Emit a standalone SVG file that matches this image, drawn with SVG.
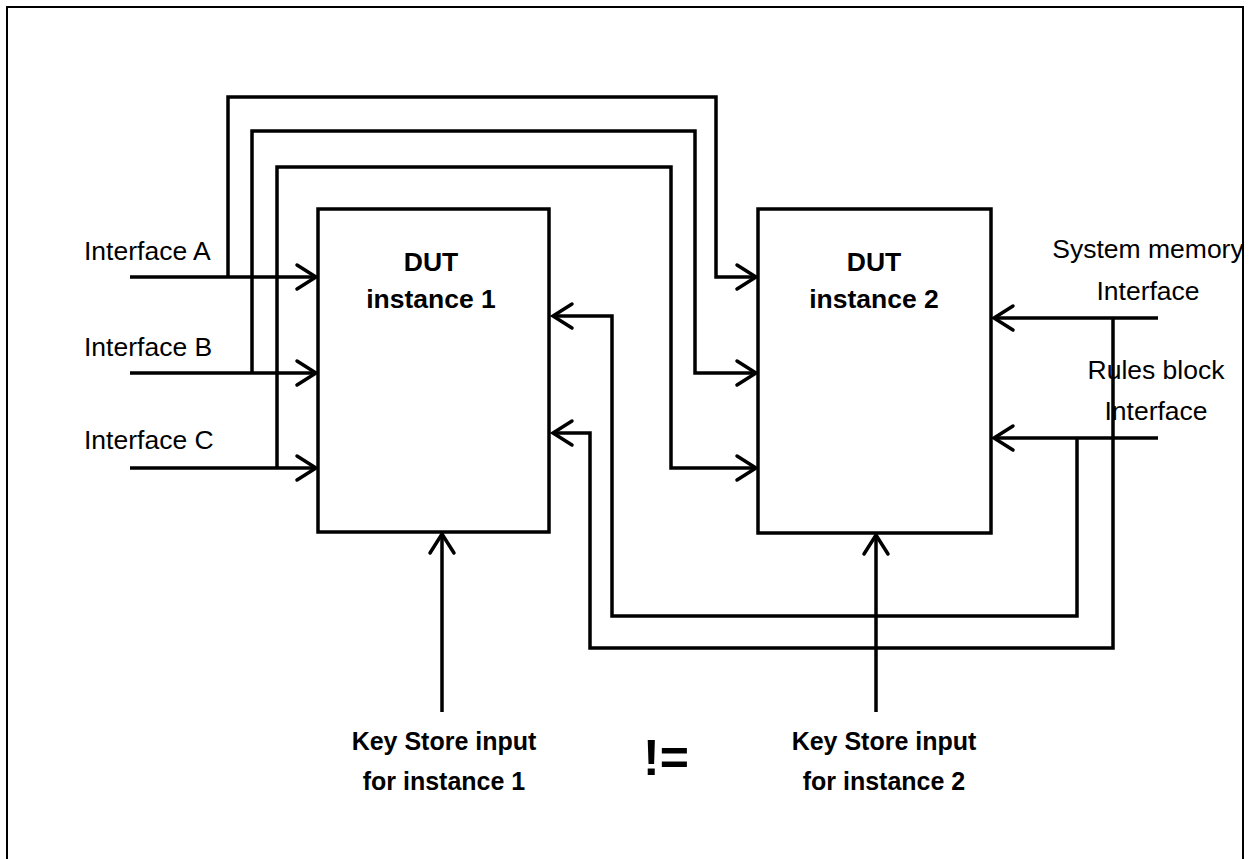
<svg xmlns="http://www.w3.org/2000/svg" width="1251" height="859" viewBox="0 0 1251 859">
<style>
.frame{fill:none;stroke:#000;stroke-width:2}
.box{fill:#fff;stroke:#000;stroke-width:3.5}
.ln{fill:none;stroke:#000;stroke-width:3.5;stroke-linejoin:miter}
.arr{marker-end:url(#ah)}
.t{font-family:"Liberation Sans",Arial,sans-serif;font-size:26.5px;fill:#000}
.b{font-family:"Liberation Sans",Arial,sans-serif;font-size:25px;font-weight:bold;fill:#000;text-anchor:middle}
.d{font-size:26.5px}
.ne{font-family:"Liberation Sans",Arial,sans-serif;font-size:50px;font-weight:bold;fill:#000}
</style>
<defs>
<marker id="ah" markerUnits="userSpaceOnUse" viewBox="-24 -14 28 28" refX="0" refY="0" markerWidth="28" markerHeight="28" orient="auto" overflow="visible">
<path d="M-19,-12 L0,0 L-19,12" fill="none" stroke="#000" stroke-width="3.5" stroke-linecap="round" stroke-linejoin="miter"/>
</marker>
</defs>
<rect width="1251" height="859" fill="#fff"/>
<rect class="frame" x="7" y="7" width="1236" height="870"/>

<g id="connectors">
<!-- left inputs -->
<path class="ln arr" d="M130,277 H316"/>
<path class="ln arr" d="M130,373 H316"/>
<path class="ln arr" d="M130,468 H316"/>
<!-- routes from interfaces to DUT2 -->
<path class="ln arr" d="M228,277 V97 H716 V277 H756"/>
<path class="ln arr" d="M252,373 V131 H695 V373 H756"/>
<path class="ln arr" d="M277,468 V167 H671 V468 H756"/>
<!-- right inputs to DUT2 -->
<path class="ln arr" d="M1158,318 H994"/>
<path class="ln arr" d="M1158,438 H994"/>
<!-- returns to DUT1 -->
<path class="ln arr" d="M1077,438 V616 H612 V316 H553"/>
<path class="ln arr" d="M1113,318 V648 H590 V433 H553"/>
<!-- key store inputs -->
<path class="ln arr" d="M442,712 V534"/>
<path class="ln arr" d="M876,712 V535"/>
</g>

<g id="dut1">
<rect class="box" x="318" y="209" width="231" height="323"/>
<text class="b d" x="431" y="271">DUT</text>
<text class="b d" x="431" y="308">instance 1</text>
</g>

<g id="dut2">
<rect class="box" x="758" y="209" width="233" height="324"/>
<text class="b d" x="874" y="271">DUT</text>
<text class="b d" x="874" y="308">instance 2</text>
</g>

<g id="interface-a"><text class="t" x="84" y="260">Interface A</text></g>
<g id="interface-b"><text class="t" x="84" y="356">Interface B</text></g>
<g id="interface-c"><text class="t" x="84" y="449">Interface C</text></g>

<g id="system-memory">
<text class="t" x="1148" y="258" text-anchor="middle">System memory</text>
<text class="t" x="1148" y="300" text-anchor="middle">Interface</text>
</g>
<g id="rules-block">
<text class="t" x="1156" y="379" text-anchor="middle">Rules block</text>
<text class="t" x="1156" y="420" text-anchor="middle">Interface</text>
</g>

<g id="key1">
<text class="b" x="444" y="750">Key Store input</text>
<text class="b" x="444" y="790">for instance 1</text>
</g>
<g id="key2">
<text class="b" x="884" y="750">Key Store input</text>
<text class="b" x="884" y="790">for instance 2</text>
</g>
<g id="neq"><text class="ne" x="643" y="775">!=</text></g>
</svg>
